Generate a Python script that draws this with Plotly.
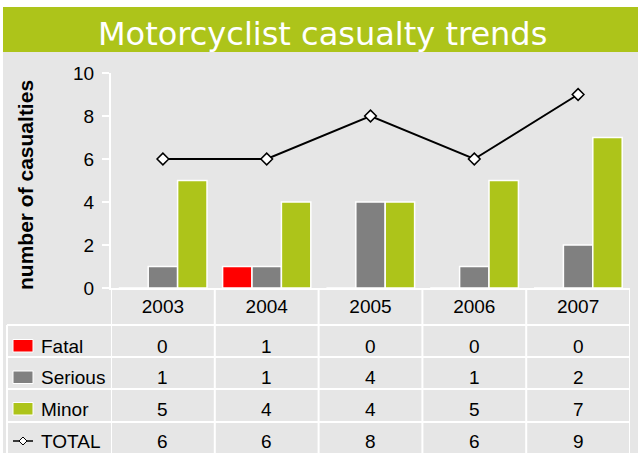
import plotly.graph_objects as go

W = 638
H = 453

years = ["2003", "2004", "2005", "2006", "2007"]
fatal = [0, 1, 0, 0, 0]
serious = [1, 1, 4, 1, 2]
minor = [5, 4, 4, 5, 7]
total = [6, 6, 8, 6, 9]
row_names = ["Fatal", "Serious", "Minor", "TOTAL"]

GREEN = "#adc41a"
RED = "#ff0000"
GREY = "#808080"
BG = "#e6e6e6"

# plot area in pixels
L, R, T, B = 111, 630, 73, 288


def fx(p):
    return (p - L) / (R - L)


def fy(p):
    return (B - p) / (B - T)


fig = go.Figure()
fig.add_trace(go.Bar(x=years, y=fatal, name="Fatal", marker=dict(color=RED, line=dict(color="white", width=1.5))))
fig.add_trace(go.Bar(x=years, y=serious, name="Serious", marker=dict(color=GREY, line=dict(color="white", width=1.5))))
fig.add_trace(go.Bar(x=years, y=minor, name="Minor", marker=dict(color=GREEN, line=dict(color="white", width=1.5))))
fig.add_trace(go.Scatter(x=years, y=total, name="TOTAL", mode="lines+markers", cliponaxis=False,
                         line=dict(color="black", width=2),
                         marker=dict(symbol="diamond", size=9, color="white", line=dict(color="black", width=1.5))))

shapes = []
# white margins and title bar
shapes.append(dict(type="rect", xref="paper", yref="paper", x0=fx(0), x1=fx(W), y0=fy(0), y1=fy(7),
                   fillcolor="white", line=dict(width=0), layer="below"))
shapes.append(dict(type="rect", xref="paper", yref="paper", x0=fx(0), x1=fx(3), y0=fy(7), y1=fy(H),
                   fillcolor="white", line=dict(width=0), layer="below"))
shapes.append(dict(type="rect", xref="paper", yref="paper", x0=fx(3), x1=fx(W), y0=fy(7), y1=fy(52),
                   fillcolor=GREEN, line=dict(width=0), layer="below"))

# table grid
for i in range(len(years) + 1):
    shapes.append(dict(type="line", xref="x", yref="paper", x0=i - 0.5, x1=i - 0.5, y0=fy(B), y1=fy(H),
                       line=dict(color="white", width=2)))
shapes.append(dict(type="line", xref="paper", yref="paper", x0=fx(7), x1=fx(7), y0=fy(325), y1=fy(H),
                   line=dict(color="white", width=2)))
for yy in [325, 357, 389, 422]:
    shapes.append(dict(type="line", xref="paper", yref="paper", x0=fx(7), x1=fx(R), y0=fy(yy), y1=fy(yy),
                       line=dict(color="white", width=2)))

row_y = [346, 377.5, 409, 441]
swatch_cols = [RED, GREY, GREEN]
for c, yc in zip(swatch_cols, row_y[:3]):
    shapes.append(dict(type="rect", xref="paper", yref="paper", x0=fx(13), x1=fx(33), y0=fy(yc - 6.5), y1=fy(yc + 6),
                       fillcolor=c, line=dict(color="white", width=1)))
# TOTAL legend symbol
yt = row_y[3]
shapes.append(dict(type="line", xref="paper", yref="paper", x0=fx(13), x1=fx(33), y0=fy(yt), y1=fy(yt),
                   line=dict(color="black", width=1.5)))
d = 4
shapes.append(dict(type="path", xref="paper", yref="paper",
                   path="M %f,%f L %f,%f L %f,%f L %f,%f Z" % (fx(23 - d), fy(yt), fx(23), fy(yt - d),
                                                            fx(23 + d), fy(yt), fx(23), fy(yt + d)),
                   fillcolor="white", line=dict(color="black", width=1)))

ann = []
ann.append(dict(text="Motorcyclist casualty trends", xref="paper", yref="paper", x=fx(322), y=fy(34),
                xanchor="center", yanchor="middle", showarrow=False,
                font=dict(family="DejaVu Sans", size=32, color="white")))
ann.append(dict(text="<b>number of casualties</b>", xref="paper", yref="paper", x=fx(25), y=fy(185),
                xanchor="center", yanchor="middle", textangle=-90, showarrow=False,
                font=dict(family="Liberation Sans, Arial", size=21, color="black")))
for name, yc in zip(row_names, row_y):
    ann.append(dict(text=name, xref="paper", yref="paper", x=fx(39), y=fy(yc), xanchor="left", yanchor="middle",
                    showarrow=False, font=dict(family="Liberation Sans, Arial", size=19, color="black")))
for series, yc in zip([fatal, serious, minor, total], row_y):
    for i, v in enumerate(series):
        ann.append(dict(text=str(v), xref="x", yref="paper", x=i, y=fy(yc), xanchor="center", yanchor="middle",
                        showarrow=False, font=dict(family="Liberation Sans, Arial", size=19, color="black")))

fig.update_layout(
    width=W, height=H,
    margin=dict(l=L, r=W - R, t=T, b=H - B, pad=0),
    paper_bgcolor=BG, plot_bgcolor=BG,
    barmode="group", bargap=0.15, bargroupgap=0,
    showlegend=False,
    shapes=shapes, annotations=ann,
    font=dict(family="Liberation Sans, Arial", size=19, color="black"),
)
fig.update_xaxes(type="category", range=[-0.5, len(years) - 0.5], showline=True, linecolor="white", linewidth=2,
                 ticks="", showgrid=False, tickfont=dict(size=19, color="black"))
fig.update_yaxes(range=[0, 10], dtick=2, showline=True, linecolor="white", linewidth=2, ticks="outside",
                 ticklen=7, tickwidth=1.5, tickcolor="white", showgrid=False, zeroline=False,
                 ticklabelstandoff=4, tickfont=dict(size=19, color="black"))

fig.write_html("out.html", config={"displayModeBar": False},
               post_script="document.body.style.margin='0';")
